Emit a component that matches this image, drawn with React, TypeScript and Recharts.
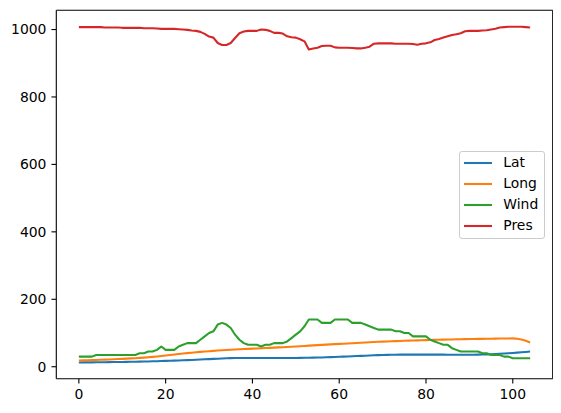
import React from 'react';
import { LineChart, Line, XAxis, YAxis, Legend, ReferenceLine } from 'recharts';

const lat = [
  12.7, 12.8, 12.9, 13.0, 13.1, 13.2, 13.4, 13.6, 13.8, 14.0,
  14.2, 14.4, 14.6, 14.8, 15.1, 15.4, 15.7, 16.1, 16.5, 16.9,
  17.3, 17.7, 18.1, 18.6, 19.1, 19.6, 20.2, 20.8, 21.4, 22.0,
  22.6, 23.2, 23.8, 24.4, 25.0, 25.5, 25.8, 26.0, 26.0, 26.0,
  26.0, 26.0, 25.9, 25.9, 25.9, 25.9, 25.9, 25.9, 26.0, 26.0,
  26.1, 26.2, 26.4, 26.6, 26.9, 27.2, 27.6, 28.0, 28.5, 29.0,
  29.5, 30.0, 30.5, 31.0, 31.6, 32.2, 32.8, 33.4, 33.9, 34.4,
  34.8, 35.1, 35.4, 35.6, 35.8, 35.9, 36.0, 36.0, 36.0, 36.0,
  36.0, 35.9, 35.9, 35.8, 35.8, 35.7, 35.7, 35.6, 35.6, 35.6,
  35.6, 35.7, 35.9, 36.2, 36.6, 37.1, 37.7, 38.4, 39.2, 40.0,
  40.9, 41.9, 42.9, 43.9, 45.0,
];

const long = [
  18.5, 18.8, 19.2, 19.6, 20.0, 20.5, 21.0, 21.6, 22.2, 22.8,
  23.4, 24.0, 24.7, 25.4, 26.2, 27.0, 28.0, 29.2, 30.6, 32.0,
  33.4, 34.8, 36.2, 37.6, 39.0, 40.3, 41.6, 42.8, 44.0, 45.1,
  46.1, 47.1, 48.0, 48.9, 49.7, 50.4, 51.1, 51.8, 52.4, 53.0,
  53.6, 54.2, 54.8, 55.4, 56.0, 56.6, 57.3, 58.0, 58.7, 59.4,
  60.1, 60.9, 61.7, 62.5, 63.3, 64.1, 64.9, 65.6, 66.3, 67.0,
  67.7, 68.4, 69.1, 69.8, 70.5, 71.2, 72.0, 72.7, 73.3, 73.9,
  74.5, 75.0, 75.5, 76.0, 76.5, 77.0, 77.4, 77.8, 78.2, 78.6,
  79.0, 79.4, 79.8, 80.1, 80.4, 80.7, 81.0, 81.3, 81.6, 81.9,
  82.1, 82.3, 82.5, 82.7, 82.9, 83.1, 83.3, 83.5, 83.7, 83.9,
  84.0, 83.0, 80.5, 77.0, 72.0,
];

const wind = [
  30, 30, 30, 30, 35, 35, 35, 35, 35, 35,
  35, 35, 35, 35, 40, 40, 45, 45, 50, 60,
  50, 50, 50, 60, 65, 70, 70, 70, 80, 90,
  100, 105, 125, 130, 125, 115, 95, 80, 70, 65,
  65, 65, 60, 65, 65, 70, 70, 70, 75, 85,
  95, 105, 120, 140, 140, 140, 130, 130, 130, 140,
  140, 140, 140, 130, 130, 130, 125, 120, 115, 110,
  110, 110, 110, 105, 105, 100, 100, 90, 90, 90,
  90, 80, 75, 70, 65, 65, 55, 50, 45, 45,
  45, 45, 45, 40, 40, 35, 35, 35, 30, 30,
  25, 25, 25, 25, 25,
];

const pres = [
  1007, 1007, 1007, 1007, 1007, 1007, 1006, 1006, 1006, 1006,
  1005, 1005, 1005, 1005, 1005, 1004, 1004, 1004, 1003, 1002,
  1002, 1002, 1002, 1001, 1000, 999, 997, 996, 993, 987,
  979, 976, 960, 954, 954, 960, 975, 989, 994, 996,
  996, 996, 1000, 999, 996, 990, 990, 988, 980, 977,
  976, 971, 965, 941, 944, 946, 951, 952, 952, 947,
  946, 946, 946, 945, 944, 944, 946, 949, 958, 959,
  959, 959, 959, 958, 958, 958, 958, 957, 955, 958,
  959, 962, 969, 972, 976, 980, 984, 986, 989, 995,
  996, 996, 996, 997, 998, 1000, 1002, 1006, 1007, 1008,
  1008, 1008, 1008, 1007, 1006,
];

const xTicks = [0, 20, 40, 60, 80, 100];
const yTicks = [0, 200, 400, 600, 800, 1000];
const xDomain: [number, number] = [-5.2, 109.2];
const yDomain: [number, number] = [-35.5, 1057];

const seriesNames = ['Lat', 'Long', 'Wind', 'Pres'];
const seriesColors = ['#1f77b4', '#ff7f0e', '#2ca02c', '#d62728'];

const data = lat.map((v, i) => ({
  i,
  Lat: v,
  Long: long[i],
  Wind: wind[i],
  Pres: pres[i],
}));

const FONT = 'DejaVu Sans';
const tickStyle = { fill: '#000', fontSize: 13.9, fontFamily: FONT };
const axisLineStyle = { stroke: '#000', strokeWidth: 1.1 };

const renderLegend = () => (
  <div
    style={{
      width: 86,
      height: 88,
      boxSizing: 'border-box',
      border: '1px solid #cccccc',
      borderRadius: 3,
      background: 'rgba(255,255,255,0.8)',
      padding: '0.5px 0 0 4px',
      fontFamily: FONT,
      fontSize: 13.9,
      color: '#000',
      lineHeight: 1,
    }}
  >
    {seriesNames.map((name, k) => (
      <div key={name} style={{ display: 'flex', alignItems: 'center', height: 21 }}>
        <svg width={28} height={4} style={{ display: 'block' }}>
          <line x1={0} y1={2} x2={28} y2={2} stroke={seriesColors[k]} strokeWidth={2.08} />
        </svg>
        <span style={{ marginLeft: 11 }}>{name}</span>
      </div>
    ))}
  </div>
);

export default function App() {
  return (
    <LineChart
      width={553}
      height={405}
      data={data}
      margin={{ top: 2.3, right: 8.3, left: 0, bottom: 0 }}
    >
      <XAxis
        dataKey="i"
        type="number"
        domain={xDomain}
        ticks={xTicks}
        interval={0}
        allowDataOverflow
        tick={tickStyle}
        tickSize={4.86}
        tickMargin={6}
        axisLine={axisLineStyle}
        tickLine={axisLineStyle}
        height={34.3}
      />
      <YAxis
        type="number"
        domain={yDomain}
        ticks={yTicks}
        interval={0}
        allowDataOverflow
        tick={tickStyle}
        tickSize={4.86}
        tickMargin={5}
        axisLine={axisLineStyle}
        tickLine={axisLineStyle}
        width={48.3}
      />
      <ReferenceLine y={yDomain[1]} stroke="#000" strokeWidth={1.1} ifOverflow="extendDomain" />
      <ReferenceLine x={xDomain[1]} stroke="#000" strokeWidth={1.1} ifOverflow="extendDomain" />
      <Legend
        layout="vertical"
        align="center"
        verticalAlign="middle"
        content={renderLegend}
        wrapperStyle={{ left: 451.3, top: 143, width: 86, height: 88 }}
      />
      {seriesNames.map((name, k) => (
        <Line
          key={name}
          dataKey={name}
          stroke={seriesColors[k]}
          strokeWidth={2.08}
          dot={false}
          activeDot={false}
          isAnimationActive={false}
          strokeLinejoin="round"
        />
      ))}
    </LineChart>
  );
}
